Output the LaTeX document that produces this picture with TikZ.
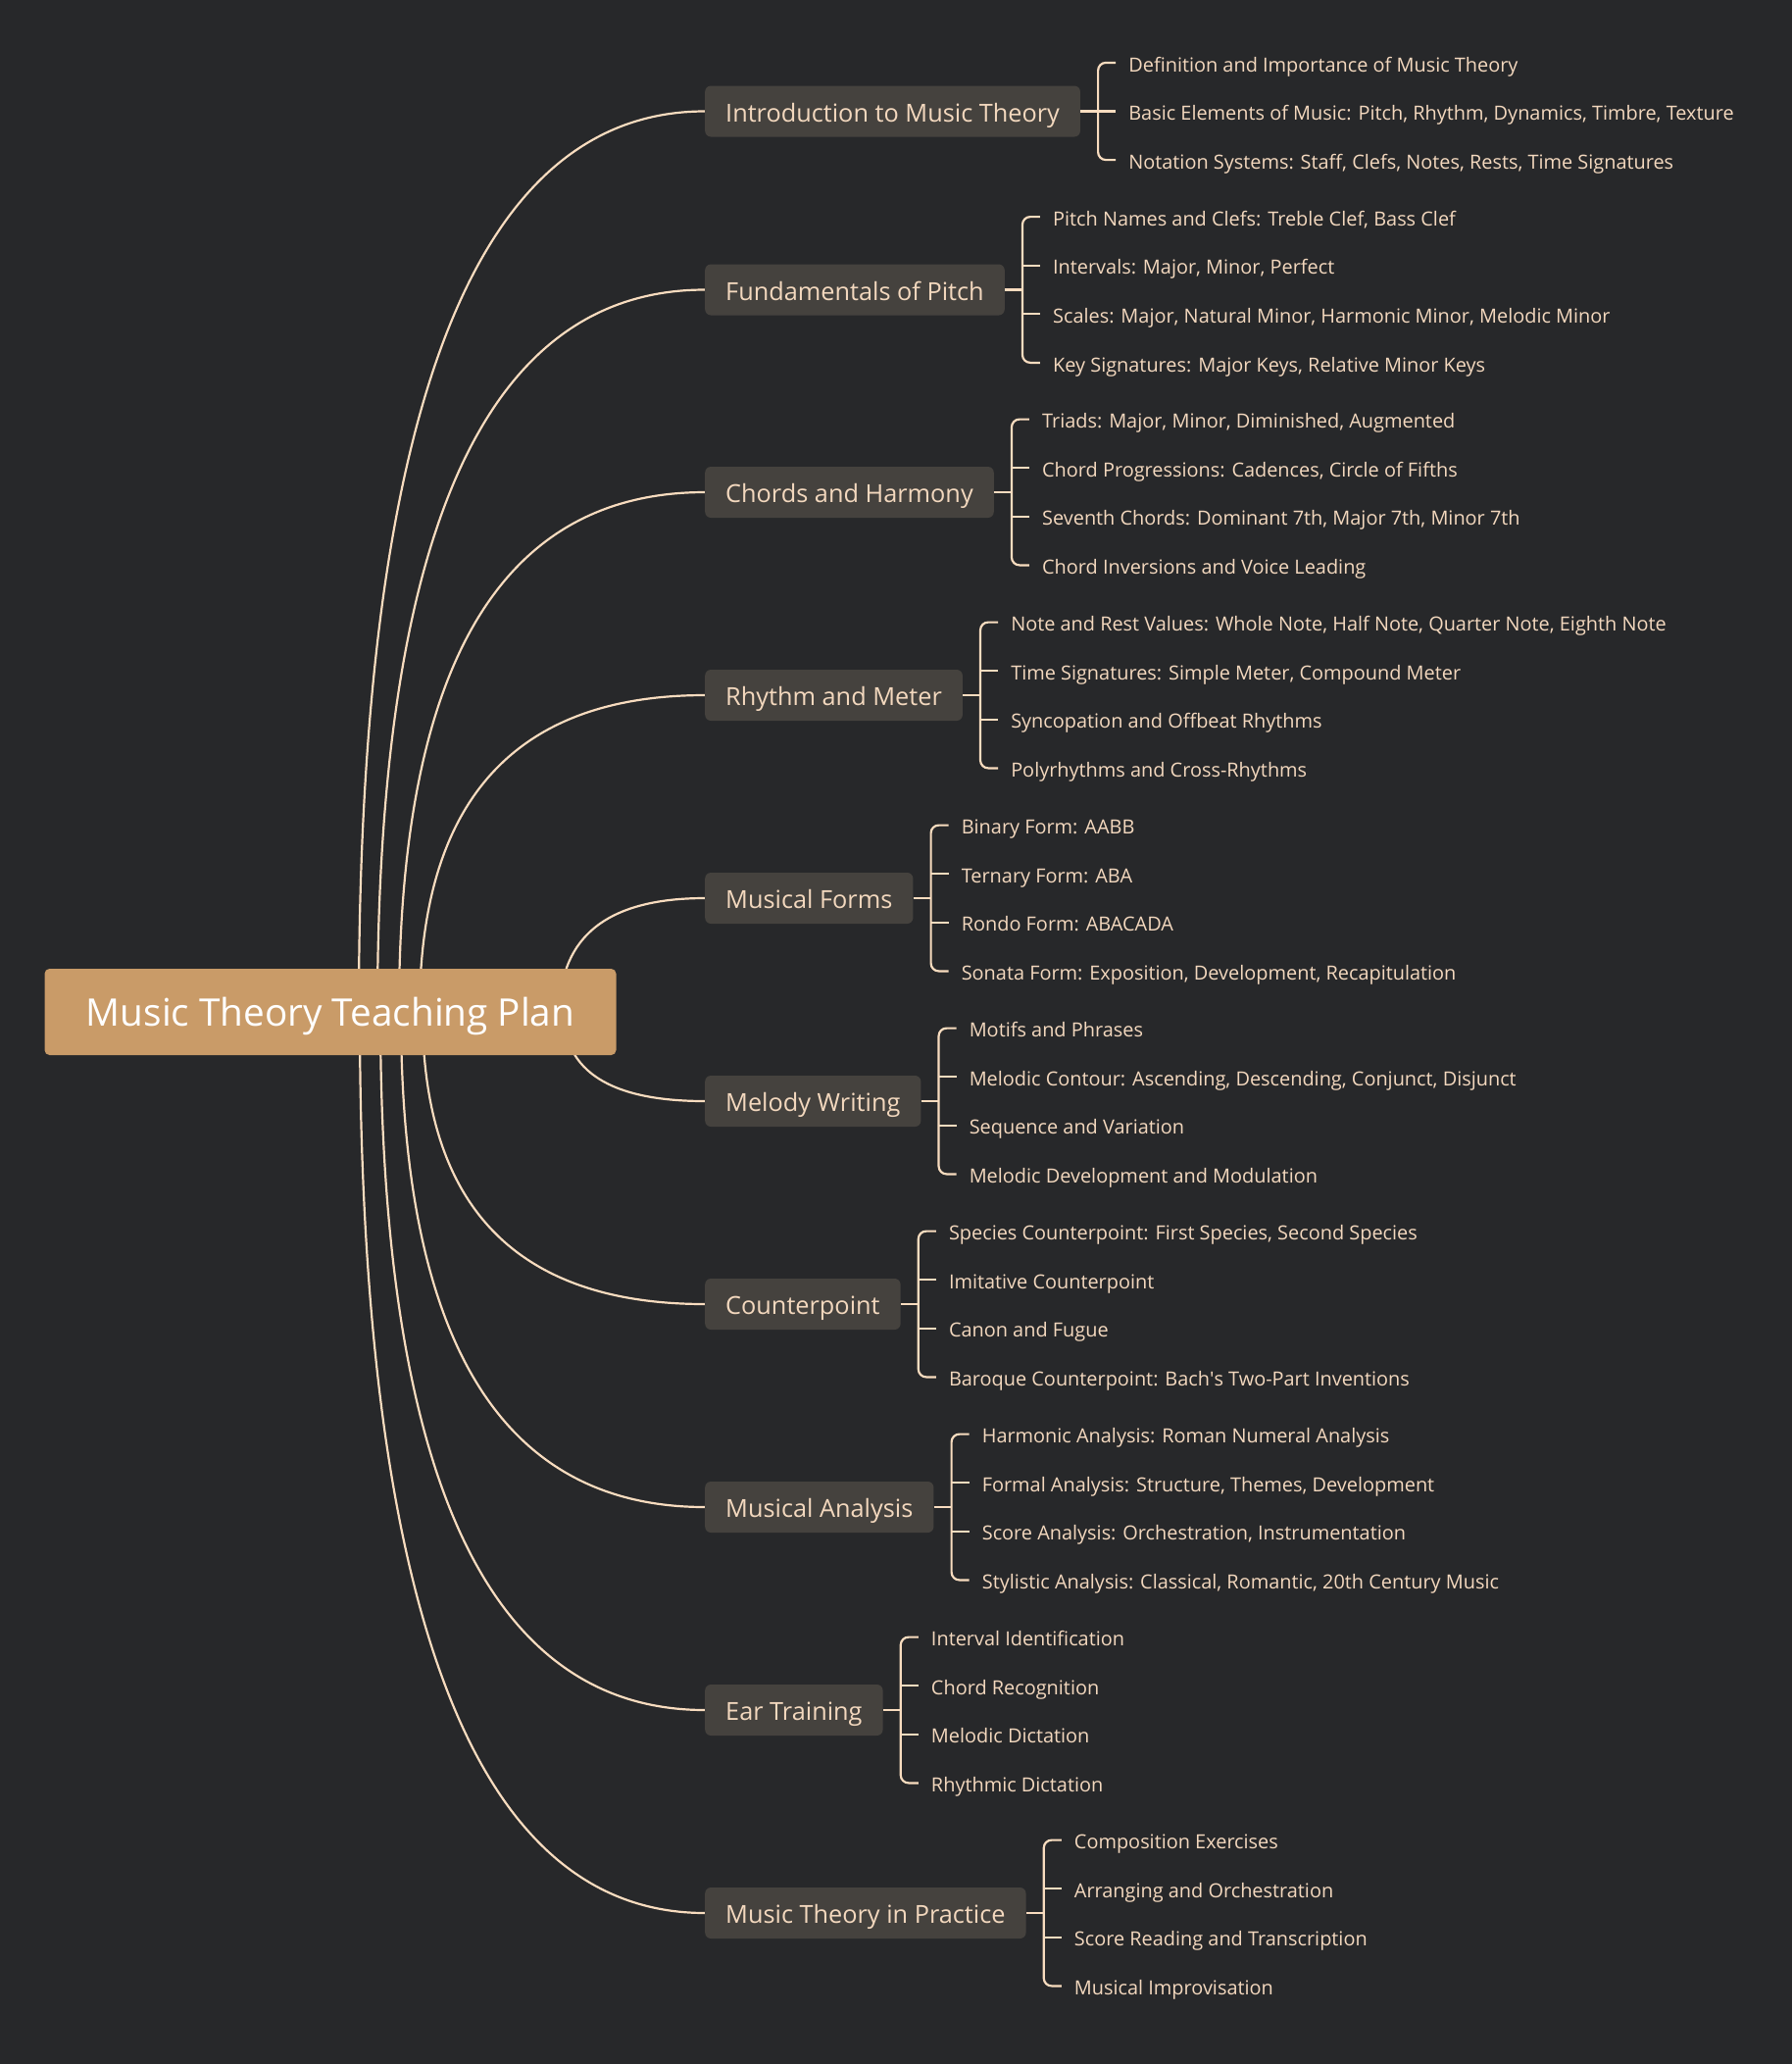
\documentclass[tikz,border=0pt]{standalone}
\usepackage{fontspec}
\setmainfont{Open Sans}
\usetikzlibrary{calc}
\definecolor{bgc}{HTML}{27282A}
\definecolor{rootfill}{HTML}{C99B68}
\definecolor{brfill}{HTML}{45423E}
\definecolor{ink}{HTML}{F3D8BE}
\definecolor{wirec}{HTML}{F8DCBF}
\pgfdeclarelayer{back}
\pgfsetlayers{back,main}
\newcommand{\mmcurve}[2]{% #1 start coordinate, #2 branch node
  \draw[wire] (#1) .. controls ($(#1)!2/3!(#1|-#2.west)$) and ($(#2.west)!2/3!(#1|-#2.west)$) .. (#2.west);}
\newcommand{\mmthree}[4]{%
  \node[leaf] (#1a) at ($(#1.east)+(49,-49.6)$) {#2};
  \node[leaf] (#1b) at ($(#1.east)+(49,0)$) {#3};
  \node[leaf] (#1c) at ($(#1.east)+(49,49.6)$) {#4};
  \coordinate (#1k) at ($(#1.east)+(18,0)$);
  \draw[wire] (#1.east) -- (#1k);
  \draw[bracket] ([xshift=-13pt]#1a.west) -| (#1k) |- ([xshift=-13pt]#1c.west);
  \draw[wire] (#1k |- #1b.west) -- ([xshift=-13pt]#1b.west);}
\newcommand{\mmfour}[5]{%
  \node[leaf] (#1a) at ($(#1.east)+(49,-74.4)$) {#2};
  \node[leaf] (#1b) at ($(#1.east)+(49,-24.8)$) {#3};
  \node[leaf] (#1c) at ($(#1.east)+(49,24.8)$) {#4};
  \node[leaf] (#1d) at ($(#1.east)+(49,74.4)$) {#5};
  \coordinate (#1k) at ($(#1.east)+(18,0)$);
  \draw[wire] (#1.east) -- (#1k);
  \draw[bracket] ([xshift=-13pt]#1a.west) -| (#1k) |- ([xshift=-13pt]#1d.west);
  \draw[wire] (#1k |- #1b.west) -- ([xshift=-13pt]#1b.west);
  \draw[wire] (#1k |- #1c.west) -- ([xshift=-13pt]#1c.west);}
\begin{document}
\begin{tikzpicture}[x=1pt,y=-1pt,
  rootnode/.style={fill=rootfill, rounded corners=5pt, minimum width=583pt, minimum height=88pt, inner ysep=0pt, text height=29.6pt, text depth=0pt, text=white, font=\fontsize{38.7}{46}\selectfont},
  branch/.style={fill=brfill, rounded corners=6pt, minimum height=52pt, inner xsep=21pt, inner ysep=0pt, text height=21.1pt, text depth=0pt, text=ink, font=\fontsize{25.3}{30}\selectfont, anchor=west},
  leaf/.style={inner sep=0pt, anchor=west, text height=18.2pt, text depth=0pt, text=ink, font=\fontsize{19.9}{24}\selectfont},
  wire/.style={draw=wirec, line width=2.2pt},
  bracket/.style={wire, rounded corners=8pt}]
\useasboundingbox (0,0) rectangle (1828,2105);
\begin{pgfonlayer}{back}
\fill[bgc] (0,0) rectangle (1828,2105);
\end{pgfonlayer}
\node[rootnode] (root) at (337,1032) {Music Theory Teaching Plan};
\node[branch] (b1) at (719,113.5) {Introduction to Music Theory};
\node[branch] (b2) at (719,295.5) {Fundamentals of Pitch};
\node[branch] (b3) at (719,502) {Chords and Harmony};
\node[branch] (b4) at (719,709) {Rhythm and Meter};
\node[branch] (b5) at (719,916) {Musical Forms};
\node[branch] (b6) at (719,1123) {Melody Writing};
\node[branch] (b7) at (719,1330) {Counterpoint};
\node[branch] (b8) at (719,1537) {Musical Analysis};
\node[branch] (b9) at (719,1744) {Ear Training};
\node[branch] (b10) at (719,1951) {Music Theory in Practice};
\coordinate (s1) at (366,1032);
\coordinate (s2) at (385,1032);
\coordinate (s3) at (407,1032);
\coordinate (s4) at (428,1032);
\coordinate (s5) at (571,1032);
\coordinate (s6) at (575,1032);
\coordinate (s7) at (431,1032);
\coordinate (s8) at (409,1032);
\coordinate (s9) at (388,1032);
\coordinate (s10) at (367,1032);
\begin{pgfonlayer}{back}
\mmcurve{s1}{b1}
\mmcurve{s2}{b2}
\mmcurve{s3}{b3}
\mmcurve{s4}{b4}
\mmcurve{s5}{b5}
\mmcurve{s6}{b6}
\mmcurve{s7}{b7}
\mmcurve{s8}{b8}
\mmcurve{s9}{b9}
\mmcurve{s10}{b10}
\end{pgfonlayer}
\mmthree{b1}{Definition and Importance of Music Theory}{Basic Elements of Music: Pitch, Rhythm, Dynamics, Timbre, Texture}{Notation Systems: Staff, Clefs, Notes, Rests, Time Signatures}
\mmfour{b2}{Pitch Names and Clefs: Treble Clef, Bass Clef}{Intervals: Major, Minor, Perfect}{Scales: Major, Natural Minor, Harmonic Minor, Melodic Minor}{Key Signatures: Major Keys, Relative Minor Keys}
\mmfour{b3}{Triads: Major, Minor, Diminished, Augmented}{Chord Progressions: Cadences, Circle of Fifths}{Seventh Chords: Dominant 7th, Major 7th, Minor 7th}{Chord Inversions and Voice Leading}
\mmfour{b4}{Note and Rest Values: Whole Note, Half Note, Quarter Note, Eighth Note}{Time Signatures: Simple Meter, Compound Meter}{Syncopation and Offbeat Rhythms}{Polyrhythms and Cross-Rhythms}
\mmfour{b5}{Binary Form: AABB}{Ternary Form: ABA}{Rondo Form: ABACADA}{Sonata Form: Exposition, Development, Recapitulation}
\mmfour{b6}{Motifs and Phrases}{Melodic Contour: Ascending, Descending, Conjunct, Disjunct}{Sequence and Variation}{Melodic Development and Modulation}
\mmfour{b7}{Species Counterpoint: First Species, Second Species}{Imitative Counterpoint}{Canon and Fugue}{Baroque Counterpoint: Bach\textquotesingle s Two-Part Inventions}
\mmfour{b8}{Harmonic Analysis: Roman Numeral Analysis}{Formal Analysis: Structure, Themes, Development}{Score Analysis: Orchestration, Instrumentation}{Stylistic Analysis: Classical, Romantic, 20th Century Music}
\mmfour{b9}{Interval Identification}{Chord Recognition}{Melodic Dictation}{Rhythmic Dictation}
\mmfour{b10}{Composition Exercises}{Arranging and Orchestration}{Score Reading and Transcription}{Musical Improvisation}
\end{tikzpicture}
\end{document}
